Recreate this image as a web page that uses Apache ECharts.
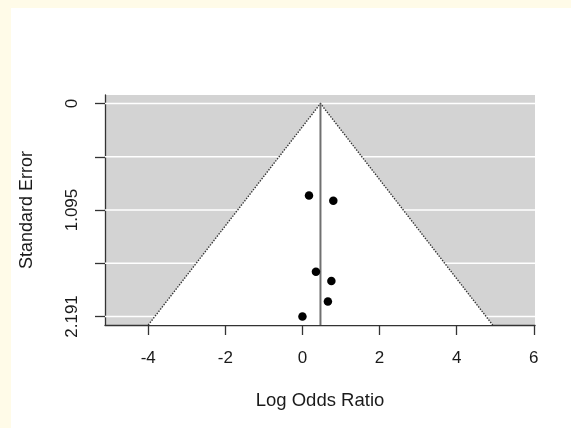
<!DOCTYPE html>
<html>
<head>
<meta charset="utf-8">
<script src="https://cdn.jsdelivr.net/npm/echarts@6/dist/echarts.min.js"></script>
<style>
  html, body { margin: 0; padding: 0; background: #fffbe8; }
  #paper { position: absolute; left: 11px; top: 8px; width: 560px; height: 420px; background: #ffffff; }
  #chart { position: absolute; left: 0; top: 0; width: 571px; height: 428px; }
</style>
</head>
<body>
<div id="paper"></div>
<div id="chart"></div>
<script>
// ---- data ----
const logOddsRatio  = [0.17, 0.80, 0.35, 0.75, 0.66, 0.00];
const standardError = [0.946, 1.00, 1.732, 1.825, 2.037, 2.191];
const pooledEstimate = 0.467;
const maxSE = 2.191;
const yTickValues  = [0, 0.54775, 1.0955, 1.64325, 2.191];
const yLabelValues = [0, 1.0955, 2.191];
const yLabelTexts  = ['0', '1.095', '2.191'];
const xTickValues  = [-4, -2, 0, 2, 4, 6];
const xAxisTitle = 'Log Odds Ratio';
const yAxisTitle = 'Standard Error';

// axis extents (R usr region, 4% padding on y)
const yMin = -0.04 * maxSE;
const yMax = maxSE * 1.04;
const xMin = -5.12;
const xMax = 6.03;
const z = 1.96;

const points = logOddsRatio.map((v, i) => [v, standardError[i]]);
const funnelData = [[pooledEstimate - z * yMax, yMax, pooledEstimate, 0, pooledEstimate + z * yMax, yMax]];
const gridLineData = yTickValues.map(v => [v]);

const font = '"Liberation Sans", Arial, sans-serif';
const chart = echarts.init(document.getElementById('chart'), null, { renderer: 'canvas' });

chart.setOption({
  backgroundColor: 'transparent',
  animation: false,
  grid: {
    left: 105, right: 36, top: 95, bottom: 103,
    show: true, backgroundColor: '#d3d3d3', borderWidth: 0
  },
  xAxis: {
    type: 'value', min: xMin, max: xMax,
    name: xAxisTitle, nameLocation: 'middle', nameGap: 66,
    nameTextStyle: { fontFamily: font, fontSize: 18.5, color: '#1a1a1a' },
    axisLine: { show: true, onZero: false, lineStyle: { color: '#333', width: 1.3 } },
    axisTick: { show: true, length: 10, customValues: xTickValues, lineStyle: { color: '#333', width: 1.3 } },
    axisLabel: { customValues: xTickValues, margin: 25, fontFamily: font, fontSize: 17, color: '#1a1a1a',
                 formatter: v => String(v) },
    splitLine: { show: false }
  },
  yAxis: {
    type: 'value', inverse: true, min: yMin, max: yMax,
    name: yAxisTitle, nameLocation: 'middle', nameGap: 69, nameRotate: 90,
    nameTextStyle: { fontFamily: font, fontSize: 18, color: '#1a1a1a' },
    axisLine: { show: true, onZero: false, lineStyle: { color: '#333', width: 1.3 } },
    axisTick: { show: true, length: 10, customValues: yTickValues, lineStyle: { color: '#333', width: 1.3 } },
    axisLabel: {
      customValues: yLabelValues, rotate: 90, margin: 24, fontFamily: font, fontSize: 17, color: '#1a1a1a',
      formatter: function (v) {
        let best = 0;
        for (let i = 1; i < yLabelValues.length; i++) {
          if (Math.abs(yLabelValues[i] - v) < Math.abs(yLabelValues[best] - v)) best = i;
        }
        return yLabelTexts[best];
      }
    },
    splitLine: { show: false }
  },
  series: [
    {
      type: 'custom', name: 'gridlines', silent: true, z: 1,
      data: gridLineData,
      renderItem: function (params, api) {
        const p1 = api.coord([xMin, api.value(0)]);
        const p2 = api.coord([xMax, api.value(0)]);
        return { type: 'line', shape: { x1: p1[0], y1: p1[1], x2: p2[0], y2: p2[1] },
                 style: { stroke: '#ffffff', lineWidth: 1.6 } };
      }
    },
    {
      type: 'custom', name: 'funnel', silent: true, z: 2,
      data: funnelData,
      renderItem: function (params, api) {
        const a = api.coord([api.value(0), api.value(1)]);
        const b = api.coord([api.value(2), api.value(3)]);
        const c = api.coord([api.value(4), api.value(5)]);
        return {
          type: 'group',
          children: [
            { type: 'polygon', shape: { points: [a, b, c] }, style: { fill: '#ffffff' } },
            { type: 'polyline', shape: { points: [a, b, c] },
              style: { stroke: '#333', lineWidth: 1.4, lineDash: [1.4, 1.4], fill: null } }
          ]
        };
      }
    },
    {
      type: 'line', name: 'estimate', silent: true, z: 3,
      data: [[pooledEstimate, 0], [pooledEstimate, yMax]],
      showSymbol: false, symbol: 'none',
      lineStyle: { color: '#707070', width: 2 }
    },
    {
      type: 'scatter', name: 'studies', z: 4,
      data: points, symbol: 'circle', symbolSize: 8.5,
      itemStyle: { color: '#000000', opacity: 1 }
    }
  ]
});
</script>
</body>
</html>
